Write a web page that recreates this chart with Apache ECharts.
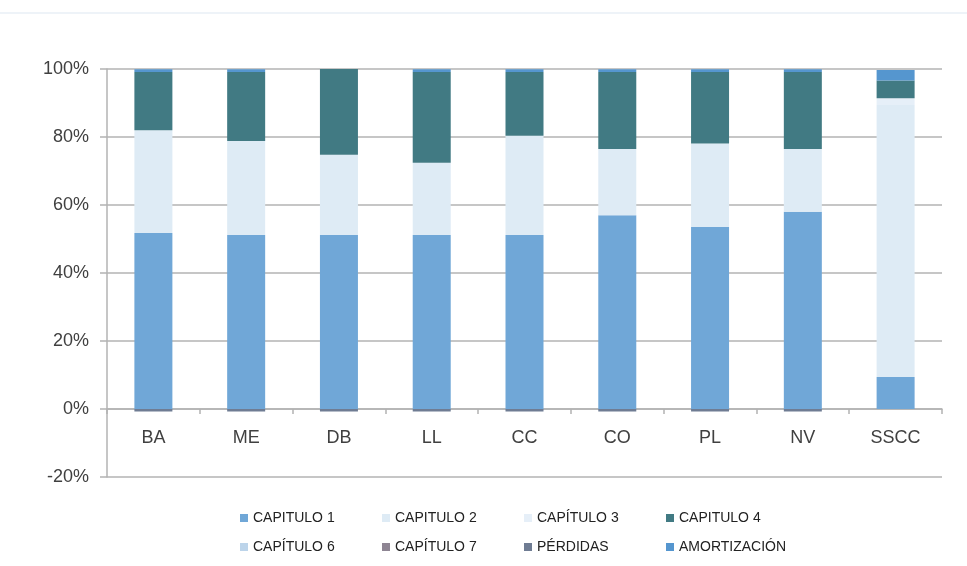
<!DOCTYPE html>
<html>
<head>
<meta charset="utf-8">
<script src="https://cdn.jsdelivr.net/npm/echarts@6/dist/echarts.min.js"></script>
<style>
  html, body { margin: 0; padding: 0; background: #fff; }
  #topline { position: absolute; left: 0; top: 0; width: 967px; height: 12px; border-bottom: 2px solid #eef3f8; }
  #chart { width: 967px; height: 566px; }
</style>
</head>
<body>
<div id="topline"></div>
<div id="chart"></div>
<script>
var categories = ['BA', 'ME', 'DB', 'LL', 'CC', 'CO', 'PL', 'NV', 'SSCC']
var yTicks = [-20, 0, 20, 40, 60, 80, 100]

var cap1 = [51.8, 51.2, 51.2, 51.2, 51.2, 57.0, 53.5, 58.0, 9.4]
var cap2 = [30.2, 27.6, 23.6, 21.2, 29.2, 19.5, 24.6, 18.5, 80.0]
var cap3 = [0, 0, 0, 0, 0, 0, 0, 0, 2.0]
var cap4 = [17.1, 20.3, 25.2, 26.7, 18.7, 22.6, 21.0, 22.6, 5.2]
var cap6 = [0, 0, 0, 0, 0, 0, 0, 0, 0]
var cap7 = [0, 0, 0, 0, 0, 0, 0, 0, 0]
var perdidas = [-0.7, -0.7, -0.7, -0.7, -0.7, -0.7, -0.7, -0.7, 0]
var amortizacion = [0.8, 0.8, 0.4, 0.8, 0.8, 0.8, 0.8, 0.8, 3.1]

var seriesDefs = [
  { name: 'CAPITULO 1', data: cap1, color: '#70a7d7' },
  { name: 'CAPITULO 2', data: cap2, color: '#deebf5' },
  { name: 'CAPÍTULO 3', data: cap3, color: '#e6eff8' },
  { name: 'CAPITULO 4', data: cap4, color: '#417a83' },
  { name: 'CAPÍTULO 6', data: cap6, color: '#bcd4ea' },
  { name: 'CAPÍTULO 7', data: cap7, color: '#8e8593' },
  { name: 'PÉRDIDAS', data: perdidas, color: '#6f7c93' },
  { name: 'AMORTIZACIÓN', data: amortizacion, color: '#5596cf' }
]

var myChart = echarts.init(document.getElementById('chart'))

// one legend per item, laid out as a 4 x 2 table
var legends = seriesDefs.map(function (s, i) {
  return {
    data: [s.name],
    left: 240 + (i % 4) * 142,
    top: i < 4 ? 511 : 540,
    padding: 0,
    itemWidth: 8, itemHeight: 8,
    icon: 'rect',
    textStyle: { fontFamily: 'Liberation Sans', fontSize: 14, color: '#222' }
  }
})

myChart.setOption({
  animation: false,
  textStyle: { fontFamily: 'Liberation Sans' },
  grid: { left: 107, right: 25, top: 69, bottom: 89 },
  legend: legends,
  xAxis: {
    type: 'category',
    data: categories,
    offset: -68,
    axisLine: { onZero: false, lineStyle: { color: '#b3b3b3', width: 1.5 } },
    axisTick: { show: true, length: 5, lineStyle: { color: '#b3b3b3', width: 1.5 } },
    axisLabel: { fontSize: 18, color: '#404040', margin: 20 }
  },
  yAxis: {
    type: 'value',
    min: yTicks[0],
    max: yTicks[yTicks.length - 1],
    interval: 20,
    axisLine: { show: true, lineStyle: { color: '#b3b3b3', width: 1.5 } },
    axisTick: { show: true, length: 7, lineStyle: { color: '#b3b3b3', width: 1.5 } },
    axisLabel: { formatter: '{value}%', fontSize: 18, color: '#404040', margin: 18 },
    splitLine: { lineStyle: { color: '#b3b3b3', width: 1.5 } }
  },
  series: seriesDefs.map(function (s) {
    return {
      name: s.name,
      type: 'bar',
      stack: 'total',
      barWidth: 38,
      data: s.data,
      itemStyle: { color: s.color }
    }
  })
})
</script>
</body>
</html>
